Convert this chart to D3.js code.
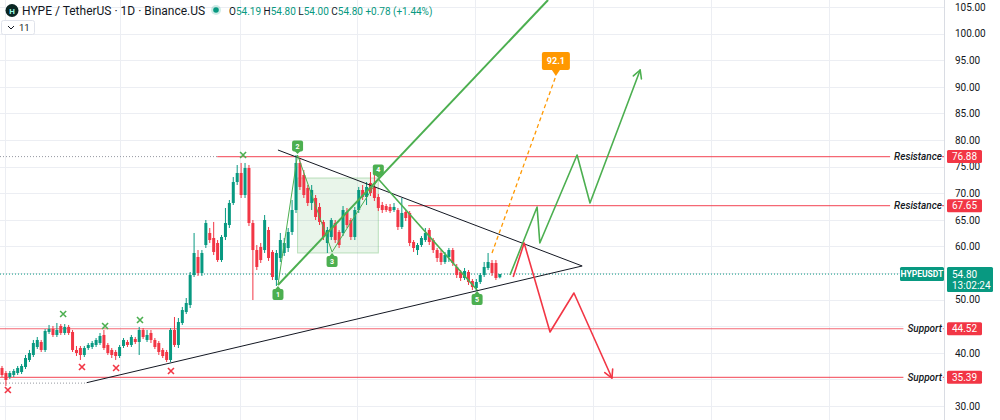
<!DOCTYPE html>
<html>
<head>
<meta charset="utf-8">
<script src="https://cdn.jsdelivr.net/npm/d3@7"></script>
<style>
  html, body { margin: 0; padding: 0; background: #fff; }
  svg { display: block; font-family: Roboto, "Noto Sans", sans-serif; }
</style>
</head>
<body>
<div id="chart"></div>
<script>
// Daily candles, bar 0 .. 127 (last bar = current)
const opens = [37.14, 36.20, 35.45, 35.83, 36.20, 36.39, 37.33, 38.65, 39.59, 41.09,
  42.03, 40.53, 43.91, 44.47, 43.35, 45.04, 43.72, 44.85, 43.91, 40.53,
  40.90, 39.59, 40.90, 41.09, 41.47, 41.84, 43.35, 41.47, 40.53, 40.15,
  39.40, 41.28, 42.03, 41.47, 42.59, 42.03, 44.29, 42.41, 43.72, 42.41,
  41.84, 40.53, 40.15, 38.65, 44.29, 41.47, 45.60, 47.67, 48.98, 54.62,
  58.01, 55.00, 60.26, 62.52, 61.58, 60.64, 57.44, 61.77, 64.02, 68.16,
  72.10, 73.80, 69.66, 74.74, 64.40, 59.32, 59.89, 59.32, 63.08, 58.95,
  53.68, 57.82, 58.76, 59.70, 62.71, 66.84, 75.68, 73.42, 70.98, 68.16,
  69.10, 67.41, 64.59, 60.64, 61.77, 64.40, 62.71, 62.52, 66.47, 64.96,
  61.77, 66.84, 70.60, 69.29, 71.92, 71.17, 69.29, 67.78, 67.59, 67.41,
  66.84, 66.84, 63.65, 66.47, 66.28, 60.83, 59.32, 60.26, 61.20, 63.08,
  61.20, 59.32, 58.76, 57.07, 58.01, 59.32, 56.13, 55.19, 54.06, 55.19,
  53.50, 52.18, 53.31, 54.62, 55.94, 56.88, 56.88, 54.19];
const highs = [37.52, 36.58, 36.58, 36.95, 37.52, 37.89, 39.59, 40.53, 42.41, 42.97,
  42.41, 44.47, 45.23, 45.04, 45.60, 45.41, 45.41, 45.23, 44.29, 41.28,
  41.28, 41.28, 41.84, 42.22, 42.78, 43.72, 44.29, 41.84, 40.90, 40.53,
  41.47, 42.78, 42.41, 43.35, 42.97, 44.85, 44.66, 44.29, 44.29, 42.78,
  42.22, 40.90, 40.53, 44.66, 46.73, 46.54, 48.61, 50.30, 55.19, 62.52,
  59.32, 59.32, 64.96, 63.46, 64.59, 61.20, 62.14, 67.22, 68.72, 73.04,
  75.30, 75.68, 75.68, 75.30, 64.96, 60.26, 60.64, 65.90, 63.65, 59.32,
  59.32, 62.52, 61.58, 63.46, 68.72, 77.18, 76.62, 74.36, 71.54, 71.54,
  69.66, 68.16, 64.96, 63.65, 65.34, 64.96, 63.08, 67.59, 67.22, 65.34,
  67.41, 71.17, 71.54, 72.10, 73.98, 74.36, 69.85, 68.35, 67.97, 67.97,
  68.16, 67.22, 69.10, 66.84, 66.65, 61.20, 60.64, 61.95, 63.46, 63.46,
  61.58, 59.70, 59.32, 58.95, 59.70, 59.70, 56.69, 55.56, 55.94, 55.56,
  53.87, 53.87, 55.00, 57.07, 58.76, 57.44, 57.44, 54.80];
const lows = [35.45, 33.76, 35.07, 35.45, 35.83, 36.01, 36.95, 38.27, 39.21, 40.71,
  40.15, 40.15, 43.53, 42.97, 42.97, 43.35, 43.35, 43.35, 40.15, 39.40,
  38.65, 39.21, 40.53, 40.71, 41.09, 41.47, 40.53, 39.59, 39.02, 38.65,
  39.02, 40.90, 41.09, 41.09, 41.65, 39.59, 42.59, 42.03, 41.84, 40.71,
  39.59, 39.02, 38.27, 38.27, 41.09, 40.90, 45.23, 47.29, 48.42, 54.25,
  54.44, 54.44, 59.70, 60.64, 58.38, 57.07, 57.07, 61.20, 63.46, 67.78,
  71.54, 69.10, 69.10, 63.83, 49.92, 55.56, 56.88, 58.76, 57.26, 53.68,
  52.56, 57.07, 58.20, 58.95, 62.14, 66.28, 70.60, 69.10, 67.59, 66.84,
  64.96, 64.02, 61.20, 58.76, 61.20, 60.64, 59.70, 61.95, 63.46, 61.20,
  61.20, 66.28, 68.72, 67.78, 69.47, 68.53, 66.65, 66.28, 66.47, 66.28,
  66.47, 63.08, 63.27, 64.77, 60.07, 58.95, 58.38, 59.89, 60.83, 60.26,
  58.76, 57.07, 56.50, 56.69, 57.07, 56.32, 54.06, 53.50, 53.68, 52.74,
  51.80, 51.62, 52.93, 54.25, 55.56, 54.44, 53.68, 54.00];
const closes = [35.83, 34.89, 36.20, 36.58, 37.14, 37.52, 39.02, 39.96, 41.84, 42.41,
  40.53, 44.10, 44.47, 43.35, 44.29, 43.72, 44.85, 43.72, 40.53, 39.96,
  39.59, 40.90, 41.47, 41.84, 42.41, 43.16, 40.90, 39.96, 39.59, 39.40,
  41.09, 42.41, 41.47, 42.97, 42.03, 44.29, 42.97, 43.35, 42.41, 41.09,
  40.15, 39.40, 38.65, 44.29, 41.47, 45.79, 48.04, 49.36, 54.62, 58.76,
  55.00, 58.76, 64.40, 61.20, 58.95, 57.44, 61.77, 64.40, 68.16, 72.10,
  73.80, 69.66, 74.74, 64.40, 59.32, 56.13, 57.44, 64.96, 57.82, 54.25,
  58.76, 61.20, 60.64, 62.71, 66.84, 75.68, 71.17, 69.66, 68.16, 70.60,
  65.53, 64.59, 61.77, 63.08, 64.96, 61.20, 60.26, 66.84, 64.02, 61.77,
  66.84, 70.60, 69.29, 71.17, 70.04, 69.10, 67.22, 66.84, 66.84, 66.65,
  67.41, 63.65, 66.28, 65.34, 60.64, 59.70, 60.26, 61.58, 62.52, 60.83,
  59.32, 57.82, 57.07, 58.38, 59.32, 56.88, 54.62, 54.06, 55.38, 53.31,
  52.37, 53.31, 54.62, 56.13, 57.07, 55.00, 54.06, 54.80];

// Price axis
const gridPrices = [30, 35, 40, 45, 50, 55, 60, 65, 70, 75, 80, 85, 90, 95, 100, 105];
const priceTicks = [30, 40, 50, 60, 65, 70, 75, 80, 85, 90, 95, 100, 105];
// Time grid, in bar units
const timeGrid = [0.8, 30.2, 60.7, 90.6, 120.7, 150.8, 180.9, 211];

// Horizontal levels: name, price, first bar of the ray
const levelNames = ["Resistance", "Resistance", "Support", "Support"];
const levelPrices = [76.88, 67.65, 44.52, 35.39];
const levelStarts = [54.9, 103.6, -5, -5];
// Dotted guide lines [price, last bar]
const guideLines = [[76.88, 54.9], [34.3, 21.6]];

// Wolfe wave points [bar, price]
const wavePoints = [[70.4, 52.74], [75.4, 77.18], [84.2, 58.95], [96.0, 72.67], [121.2, 51.80]];
const waveLabels = ["1", "2", "3", "4", "5"];
const waveBox = [[75.4, 72.86], [96.0, 58.76]];
const targetLine = [[70.4, 52.74], [139.3, 106.32]];

// Triangle
const upperTrend = [[70.4, 78.12], [148.0, 56.32]];
const lowerTrend = [[21.6, 34.38], [148.0, 56.32]];

// Projections
const bullPath = [[129.6, 54.62], [136.5, 67.41], [137.2, 60.64], [146.7, 77.18], [150.0, 68.16], [162.8, 93.16]];
const bearPath = [[130.4, 54.25], [133.2, 60.64], [139.8, 43.91], [145.9, 51.24], [155.6, 35.26]];
const targetDash = [[125.0, 58.76], [141.3, 92.03]];
const targetValue = "92.1";

// Swing markers [bar, price]
const highMarks = [[15.6, 47.29], [26.3, 45.04], [35.2, 46.17], [61.5, 77.18]];
const lowMarks = [[1.5, 33.0], [20.4, 37.33], [29.1, 37.14], [43.1, 36.58]];

const lastPrice = 54.80;
const countdown = "13:02:24";

// ---------------------------------------------------------------
const up = "#089981", down = "#f23645", wave = "#4caf50";
const plotRight = 944;

const svg = d3.select("#chart").append("svg")
    .attr("width", 1000)
    .attr("height", 420);

const x = d3.scaleLinear().domain([0, 100]).range([2, 394]);
const y = d3.scaleLinear().domain([30, 105]).range([406, 7]);
const line = d3.line().x(d => x(d[0])).y(d => y(d[1]));

svg.append("defs").append("clipPath").attr("id", "plot")
    .append("rect").attr("width", plotRight).attr("height", 420);

// Grid
const grid = svg.append("g").attr("stroke", "#eceef3").attr("stroke-width", 1);
grid.selectAll(".h").data(gridPrices).enter().append("line")
    .attr("x1", 0).attr("x2", plotRight)
    .attr("y1", d => Math.round(y(d)) + 0.5).attr("y2", d => Math.round(y(d)) + 0.5);
grid.selectAll(".v").data(timeGrid).enter().append("line")
    .attr("x1", d => Math.round(x(d)) + 0.5).attr("x2", d => Math.round(x(d)) + 0.5)
    .attr("y1", 0).attr("y2", 420);

const plot = svg.append("g").attr("clip-path", "url(#plot)");

// Wave box
plot.append("rect")
    .attr("x", x(waveBox[0][0])).attr("y", y(waveBox[0][1]))
    .attr("width", x(waveBox[1][0]) - x(waveBox[0][0]))
    .attr("height", y(waveBox[1][1]) - y(waveBox[0][1]))
    .attr("fill", "rgba(76,175,80,0.12)")
    .attr("stroke", "rgba(76,175,80,0.35)");

// Dotted guides and levels
plot.selectAll(".guide").data(guideLines).enter().append("line")
    .attr("x1", 0).attr("x2", d => x(d[1]))
    .attr("y1", d => y(d[0])).attr("y2", d => y(d[0]))
    .attr("stroke", "#9598a1").attr("stroke-dasharray", "1,2");

plot.selectAll(".level").data(levelPrices).enter().append("line")
    .attr("x1", (d, i) => x(levelStarts[i])).attr("x2", plotRight)
    .attr("y1", d => y(d)).attr("y2", d => y(d))
    .attr("stroke", down).attr("stroke-opacity", 0.75).attr("stroke-width", 1.2);

// Current price line
plot.append("line")
    .attr("x1", 0).attr("x2", plotRight)
    .attr("y1", y(lastPrice)).attr("y2", y(lastPrice))
    .attr("stroke", up).attr("stroke-dasharray", "1,2");

// Candles
const candles = d3.range(closes.length).map(i => ({ i, o: opens[i], h: highs[i], l: lows[i], c: closes[i] }));
const cg = plot.append("g");
cg.selectAll("line").data(candles).enter().append("line")
    .attr("x1", d => x(d.i)).attr("x2", d => x(d.i))
    .attr("y1", d => y(d.h)).attr("y2", d => y(d.l))
    .attr("stroke", d => d.c >= d.o ? up : down);
cg.selectAll("rect").data(candles).enter().append("rect")
    .attr("x", d => x(d.i) - 1.5)
    .attr("width", 3)
    .attr("y", d => y(Math.max(d.o, d.c)))
    .attr("height", d => Math.max(1, Math.abs(y(d.o) - y(d.c))))
    .attr("fill", d => d.c >= d.o ? up : down);

// Triangle
[upperTrend, lowerTrend].forEach(t => plot.append("path")
    .attr("d", line(t)).attr("fill", "none")
    .attr("stroke", "#131722").attr("stroke-width", 1));

// Wave lines
plot.append("path").attr("d", line(wavePoints.slice(0, 4)))
    .attr("fill", "none").attr("stroke", wave).attr("stroke-width", 1);
plot.append("path").attr("d", line(wavePoints.slice(3)))
    .attr("fill", "none").attr("stroke", wave).attr("stroke-width", 1.6);
plot.append("path").attr("d", line(targetLine))
    .attr("fill", "none").attr("stroke", wave).attr("stroke-width", 2);

// Target dashed line
plot.append("path").attr("d", line(targetDash))
    .attr("fill", "none").attr("stroke", "#ff9800")
    .attr("stroke-width", 1.3).attr("stroke-dasharray", "4,3");

// Projections with arrow heads
function arrowPath(pts, color) {
    plot.append("path").attr("d", line(pts))
        .attr("fill", "none").attr("stroke", color).attr("stroke-width", 1.6)
        .attr("stroke-linejoin", "round");
    const a = pts[pts.length - 2], b = pts[pts.length - 1];
    const x1 = x(b[0]), y1 = y(b[1]);
    const ang = Math.atan2(y1 - y(a[1]), x1 - x(a[0]));
    [-0.5, 0.5].forEach(s => plot.append("line")
        .attr("x1", x1).attr("y1", y1)
        .attr("x2", x1 - 9 * Math.cos(ang + s)).attr("y2", y1 - 9 * Math.sin(ang + s))
        .attr("stroke", color).attr("stroke-width", 1.6).attr("stroke-linecap", "round"));
}
arrowPath(bullPath, wave);
arrowPath(bearPath, down);

// Swing crosses
function cross(pts, color) {
    pts.forEach(p => {
        const cx = x(p[0]), cy = y(p[1]);
        plot.append("path")
            .attr("d", `M${cx - 3},${cy - 3}L${cx + 3},${cy + 3}M${cx - 3},${cy + 3}L${cx + 3},${cy - 3}`)
            .attr("stroke", color).attr("stroke-width", 1.6);
    });
}
cross(highMarks, wave);
cross(lowMarks, down);

// Wave number markers
wavePoints.forEach((p, k) => {
    const px = x(p[0]), py = y(p[1]);
    const above = k % 2 === 1;
    const cy = above ? py - 9 : py + 9.5;
    const g = plot.append("g");
    const tip = above ? py - 1 : py + 1;
    const edge = above ? cy + 5 : cy - 5;
    g.append("path").attr("d", `M${px - 3},${edge}L${px},${tip}L${px + 3},${edge}Z`).attr("fill", wave);
    g.append("rect").attr("x", px - 5.5).attr("y", cy - 5.5).attr("width", 11).attr("height", 11)
        .attr("rx", 2).attr("fill", wave);
    g.append("text").attr("x", px).attr("y", cy + 2.5)
        .attr("text-anchor", "middle").attr("fill", "#fff")
        .style("font-size", "7px").style("font-weight", "bold")
        .text(waveLabels[k]);
});

// Target bubble
{
    const tx = x(targetDash[1][0]), ty = y(targetDash[1][1]);
    plot.append("path")
        .attr("d", `M${tx - 4},${ty - 6}L${tx},${ty}L${tx + 4},${ty - 6}Z`).attr("fill", "#ff9800");
    plot.append("rect").attr("x", tx - 14).attr("y", ty - 24).attr("width", 28).attr("height", 18)
        .attr("rx", 2).attr("fill", "#ff9800");
    plot.append("text").attr("x", tx).attr("y", ty - 12)
        .attr("text-anchor", "middle").attr("fill", "#fff")
        .style("font-size", "9px").style("font-weight", "bold")
        .text(targetValue);
}

// Level captions on the right
levelPrices.forEach((p, i) => {
    const t = svg.append("text")
        .attr("x", plotRight - 2).attr("y", y(p) + 3.5)
        .attr("text-anchor", "end").attr("fill", "#131722")
        .style("font-size", "10px").style("font-style", "italic").style("font-weight", 500)
        .text(levelNames[i]);
    const b = t.node().getBBox();
    svg.insert("rect", () => t.node())
        .attr("x", b.x - 4).attr("y", b.y).attr("width", b.width + 4).attr("height", b.height)
        .attr("fill", "#fff");
});

// Price axis
svg.append("line")
    .attr("x1", plotRight + 0.5).attr("x2", plotRight + 0.5)
    .attr("y1", 0).attr("y2", 420)
    .attr("stroke", "#d9dce3");
const axis = svg.append("g")
    .attr("transform", `translate(${plotRight},0)`)
    .call(d3.axisRight(y).tickValues(priceTicks).tickFormat(d3.format(".2f")).tickSize(0).tickPadding(11));
axis.select(".domain").remove();
axis.selectAll("text").attr("fill", "#131722").style("font-size", "10px")
    .style("font-family", "Roboto, sans-serif");

// Level price tags
levelPrices.forEach(p => {
    svg.append("rect").attr("x", plotRight + 3).attr("y", y(p) - 6.5)
        .attr("width", 35).attr("height", 13).attr("rx", 1.5).attr("fill", down);
    svg.append("text").attr("x", plotRight + 20.5).attr("y", y(p) + 3.6)
        .attr("text-anchor", "middle").attr("fill", "#fff")
        .style("font-size", "10px").text(p.toFixed(2));
});

// Last price tag
{
    const py = y(lastPrice);
    svg.append("rect").attr("x", 900).attr("y", py - 7).attr("width", 44).attr("height", 14)
        .attr("rx", 1.5).attr("fill", up);
    svg.append("text").attr("x", 922).attr("y", py + 3.2)
        .attr("text-anchor", "middle").attr("fill", "#fff")
        .style("font-size", "8.5px").style("font-weight", "bold").text("HYPEUSDT");
    svg.append("rect").attr("x", plotRight + 3).attr("y", py - 7).attr("width", 46).attr("height", 25)
        .attr("rx", 1.5).attr("fill", up);
    svg.append("text").attr("x", plotRight + 8).attr("y", py + 3.5)
        .attr("fill", "#fff").style("font-size", "10px").text(lastPrice.toFixed(2));
    svg.append("text").attr("x", plotRight + 8).attr("y", py + 14.5)
        .attr("fill", "#fff").style("font-size", "10px").text(countdown);
}

// Header
const head = svg.append("g");
head.append("circle").attr("cx", 12).attr("cy", 10.5).attr("r", 6.5).attr("fill", "#0b2724");
head.append("text").attr("x", 12).attr("y", 13.5).attr("text-anchor", "middle")
    .attr("fill", "#97fce4").style("font-size", "8px").style("font-weight", "bold").text("H");
head.append("text").attr("x", 22).attr("y", 15).attr("fill", "#131722")
    .style("font-size", "12px").text("HYPE / TetherUS · 1D · Binance.US");
head.append("circle").attr("cx", 216).attr("cy", 10).attr("r", 5).attr("fill", "rgba(8,153,129,0.2)");
head.append("circle").attr("cx", 216).attr("cy", 10).attr("r", 2.8).attr("fill", up);

const ohlcParts = [["O", "54.19"], ["H", "54.80"], ["L", "54.00"], ["C", "54.80"], ["", "+0.78 (+1.44%)"]];
const ohlc = head.append("text").attr("x", 229).attr("y", 14.5).style("font-size", "10px");
ohlcParts.forEach((p, i) => {
    ohlc.append("tspan").attr("fill", "#131722").text((i ? " " : "") + p[0]);
    ohlc.append("tspan").attr("fill", up).text(p[1]);
});

head.append("rect").attr("x", 1.5).attr("y", 20.5).attr("width", 33).attr("height", 14)
    .attr("rx", 2).attr("fill", "#fff").attr("stroke", "#e0e3eb");
head.append("path").attr("d", "M8,26L11,29L14,26").attr("fill", "none")
    .attr("stroke", "#131722").attr("stroke-width", 1);
head.append("text").attr("x", 19).attr("y", 31).attr("fill", "#131722")
    .style("font-size", "9.5px").text("11");
</script>
</body>
</html>
